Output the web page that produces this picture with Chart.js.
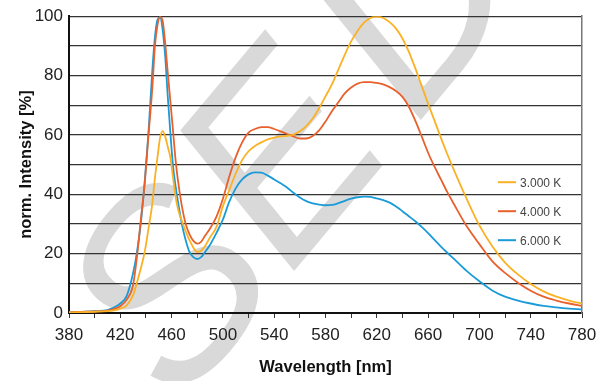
<!DOCTYPE html>
<html>
<head>
<meta charset="utf-8">
<script src="https://cdn.jsdelivr.net/npm/chart.js@4.4.0/dist/chart.umd.min.js"></script>
<style>
  body { margin: 0; background: #fff; }
  #wrap { width: 598px; height: 381px; }
</style>
</head>
<body>
<div id="wrap"><canvas id="grafica" width="598" height="381"></canvas></div>
<script>
// longitudes de onda (nm)
const longitudes = [380, 390, 400, 410, 415, 420, 425, 430, 433, 436, 439, 442, 445, 447, 449, 451, 453, 455, 457, 459, 461, 463, 465, 468, 471, 474, 477, 480, 483, 486, 490, 495, 500, 505, 510, 515, 520, 525, 530, 535, 540, 545, 550, 555, 560, 565, 570, 575, 580, 585, 590, 595, 600, 605, 610, 615, 620, 625, 630, 635, 640, 645, 650, 655, 660, 665, 670, 675, 680, 690, 700, 710, 720, 730, 740, 750, 760, 770, 780];

// intensidad normalizada (%)
const serie3000 = [0.2, 0.3, 0.4, 0.6, 0.9, 1.5, 2.6, 6.0, 10.3, 15, 20.5, 28.5, 37, 45.5, 52.5, 59, 61.3, 59.5, 56, 52.5, 46, 39.5, 35, 31, 27.5, 24.5, 22, 20.6, 21, 22.5, 25.5, 29, 36, 41.5, 47, 51.5, 54.5, 56.3, 57.5, 58.5, 59.1, 59.5, 59.7, 60.1, 61.2, 63, 65.5, 69, 73, 77, 82, 87, 91.5, 95, 97.8, 99.4, 99.9, 99.4, 98, 95.8, 92.5, 88, 82.5, 76.5, 70.5, 64.8, 59, 53.5, 48.3, 38.5, 29.5, 22.5, 17, 13, 9.8, 7.3, 5.5, 4.2, 3.2];
const serie4000 = [0.3, 0.4, 0.5, 0.8, 1.3, 2.3, 4.5, 9.5, 19, 31.5, 43.5, 60, 76, 90, 97, 99.8, 98.5, 91, 81, 71.5, 62, 52, 44.5, 36, 30, 26.5, 24.3, 23.4, 24, 26, 28.5, 32.5, 38.5, 46, 52.5, 57.5, 60.8, 62, 62.6, 62.6, 62, 61.2, 60.3, 59.5, 58.8, 58.8, 59.6, 61.5, 64.5, 68, 71, 74, 76, 77.3, 77.8, 77.8, 77.5, 77, 76.1, 74.8, 72.8, 69.5, 64.8, 59.5, 54, 49.3, 45, 40.7, 36.8, 29.3, 23.2, 17.5, 13.5, 10.2, 7.5, 5.5, 4.2, 3.2, 2.4];
const serie6000 = [0.3, 0.4, 0.6, 1.0, 1.8, 3.2, 5.8, 13.5, 20.5, 30.3, 44, 61, 82, 93, 98.8, 99.6, 95.5, 86.5, 73, 61, 50, 43, 37.5, 30, 24.5, 20.5, 18.8, 18.2, 18.8, 20.5, 23, 27, 31.5, 37.5, 42, 45, 46.7, 47.4, 47.3, 46.3, 45, 43.7, 42.3, 40.5, 38.9, 37.7, 36.9, 36.5, 36.3, 36.4, 37, 37.8, 38.5, 39, 39.2, 39.1, 38.6, 38, 37.2, 35.9, 34.3, 32.6, 30.9, 29, 26.9, 24.6, 22.4, 20.3, 18.3, 14.2, 10.7, 7.6, 5.5, 4.2, 3.2, 2.4, 1.9, 1.5, 1.2];

const etiquetas = ['3.000 K', '4.000 K', '6.000 K'];
const colores = ['#fbb124', '#e8612c', '#1a9bd7'];

const fuente = "'Liberation Sans', Arial, sans-serif";

function puntos(serie) {
  return longitudes.map((l, i) => ({ x: l, y: serie[i] }));
}

// marca de agua gris de fondo
const marcaAgua = {
  id: 'marcaAgua',
  beforeDraw(chart) {
    const ctx = chart.ctx;
    ctx.save();
    ctx.fillStyle = '#fff';
    ctx.fillRect(0, 0, chart.width, chart.height);
    ctx.translate(289, 277);
    ctx.rotate(-50 * Math.PI / 180);
    ctx.font = "italic 258px 'Liberation Sans', Arial, sans-serif";
    ctx.fillStyle = '#d9d9d9';
    const anchoS = ctx.measureText('S').width;
    const anchoE = ctx.measureText('E').width;
    ctx.fillText('S', -anchoS, 0);
    ctx.fillText('E', 0, 0);
    ctx.fillText('D', anchoE + 25, 0);
    ctx.restore();
  }
};

// leyenda dentro del área del gráfico
const leyenda = {
  id: 'leyenda',
  afterDatasetsDraw(chart) {
    const { ctx, chartArea } = chart;
    ctx.save();
    ctx.font = "12px 'Liberation Sans', Arial, sans-serif";
    ctx.textBaseline = 'middle';
    chart.data.datasets.forEach((ds, i) => {
      const x = chartArea.right - 84;
      const y = chartArea.top + 166 + i * 29;
      ctx.strokeStyle = ds.borderColor;
      ctx.lineWidth = 2;
      ctx.beginPath();
      ctx.moveTo(x, y);
      ctx.lineTo(x + 18, y);
      ctx.stroke();
      ctx.fillStyle = '#444';
      ctx.fillText(ds.label, x + 22, y + 1);
    });
    ctx.restore();
  }
};

const ctx = document.getElementById('grafica').getContext('2d');
new Chart(ctx, {
  type: 'line',
  data: {
    datasets: [serie3000, serie4000, serie6000].map((s, i) => ({
      label: etiquetas[i],
      data: puntos(s),
      borderColor: colores[i],
      backgroundColor: 'transparent',
      borderWidth: 1.8,
      pointRadius: 0,
      cubicInterpolationMode: 'monotone'
    }))
  },
  options: {
    responsive: false,
    animation: false,
    layout: { padding: { left: 0, right: 16, top: 16, bottom: 0 } },
    plugins: {
      legend: { display: false },
      tooltip: { enabled: false }
    },
    scales: {
      x: {
        type: 'linear',
        min: 380,
        max: 780,
        ticks: {
          stepSize: 20,
          autoSkip: false,
          maxRotation: 0,
          padding: 7,
          color: '#222',
          font: { family: fuente, size: 17 },
          callback: v => (v - 380) % 40 === 0 ? v : ''
        },
        grid: { drawOnChartArea: false, tickLength: 5, color: '#333', lineWidth: 1 },
        border: { color: '#111', width: 2 },
        title: {
          display: true,
          text: 'Wavelength [nm]',
          color: '#111',
          font: { family: fuente, size: 16.5, weight: 'bold' },
          padding: { top: 0, bottom: 4 }
        },
        afterFit: s => { s.height = 68; s.paddingLeft = 0; s.paddingRight = 0; }
      },
      y: {
        min: 0,
        max: 100,
        ticks: {
          stepSize: 10,
          padding: 6,
          color: '#222',
          font: { family: fuente, size: 17 },
          callback: v => v % 20 === 0 ? v : ''
        },
        grid: { color: '#333', lineWidth: 1.2, drawTicks: false },
        border: { color: '#111', width: 2 },
        title: {
          display: true,
          text: 'norm. Intensity [%]',
          color: '#111',
          font: { family: fuente, size: 16.5, weight: 'bold' },
          padding: { top: 17, bottom: 0 }
        },
        afterFit: s => { s.width = 69; }
      },
      derecha: {
        position: 'right',
        min: 0,
        max: 100,
        ticks: { display: false },
        grid: { display: false, drawTicks: false },
        border: { color: '#777', width: 1.5 },
        afterFit: s => { s.width = 0; }
      }
    }
  },
  plugins: [marcaAgua, leyenda]
});
</script>
</body>
</html>
